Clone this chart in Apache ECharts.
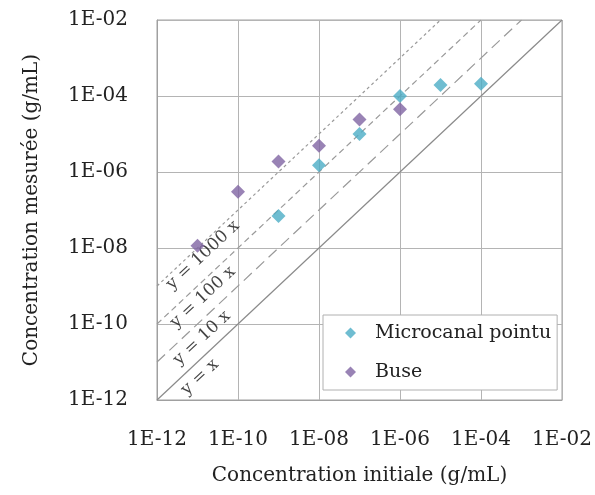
<!DOCTYPE html>
<html><head><meta charset="utf-8">
<script src="https://cdn.jsdelivr.net/npm/echarts@6/dist/echarts.min.js"></script>
<style>html,body{margin:0;padding:0;background:#fff}#c{width:595px;height:495px}</style>
</head><body><div id="c"></div>
<script>
// --- data ---
const microX = [1e-9, 1e-8, 1e-7, 1e-6, 1e-5, 1e-4];
const microY = [7e-8, 1.5e-6, 1e-5, 1e-4, 1.95e-4, 2.1e-4];
const buseX = [1e-11, 1e-10, 1e-9, 1e-8, 1e-7, 1e-6];
const buseY = [1.15e-8, 3e-7, 1.9e-6, 4.9e-6, 2.4e-5, 4.5e-5];
const refNames = ['y = x', 'y = 10 x', 'y = 100 x', 'y = 1000 x'];
const refFactors = [1, 10, 100, 1000];
const refLabelX = [1.15e-11, 1.29e-11, 1.37e-11, 1.37e-11];
const refLabelY = [4.0e-12, 4.3e-11, 5.1e-10, 6.5e-9];
const axisMin = 1e-12, axisMax = 1e-2;

const font = 'DejaVu Serif';
function fmt(v){
  const e = Math.round(Math.log10(v));
  const a = Math.abs(e);
  return '1E' + (e < 0 ? '-' : '+') + (a < 10 ? '0' + a : a);
}
const dashes = [null, [11, 6], [6, 4], [3, 3]];
const refSeries = refFactors.map((k, i) => ({
  type: 'line', name: refNames[i], silent: true, symbol: 'none',
  data: [[axisMin, axisMin * k], [axisMax / k, axisMax]],
  lineStyle: { color: i === 0 ? '#8a8a8a' : '#9a9a9a', width: 1.2, type: dashes[i] || 'solid' },
  z: 1
}));
const labelSeries = {
  type: 'scatter', silent: true, symbolSize: 0, z: 3,
  data: refNames.map((n, i) => ({ value: [refLabelX[i], refLabelY[i]], name: n })),
  label: { show: true, position: 'inside', formatter: p => p.name, rotate: 43,
    fontFamily: font, fontSize: 17, color: '#111', align: 'center', verticalAlign: 'middle' }
};
const chart = echarts.init(document.getElementById('c'), null, { renderer: 'canvas' });
chart.setOption({
  animation: false,
  backgroundColor: '#fff',
  grid: { left: 157, right: 33, top: 20, bottom: 95, show: true, borderColor: '#a0a0a0', borderWidth: 1 },
  legend: {
    data: [{ name: 'Microcanal pointu', icon: 'diamond' }, { name: 'Buse', icon: 'diamond' }],
    orient: 'vertical', left: 323, top: 315,
    itemWidth: 11, itemHeight: 11, itemGap: 19,
    padding: [8, 6, 8, 22], borderColor: '#b0b0b0', borderWidth: 1, backgroundColor: '#fff',
    textStyle: { fontFamily: font, fontSize: 19, color: '#222', lineHeight: 20, padding: [0, 0, 0, 14] }
  },
  xAxis: {
    type: 'log', logBase: 10, min: axisMin, max: axisMax, interval: 2,
    name: 'Concentration initiale (g/mL)', nameLocation: 'middle', nameGap: 66,
    nameTextStyle: { fontFamily: font, fontSize: 20, color: '#222' },
    axisLine: { lineStyle: { color: '#a0a0a0' } }, axisTick: { show: false },
    axisLabel: { formatter: fmt, fontFamily: font, fontSize: 20, color: '#222', margin: 30 },
    splitLine: { show: true, lineStyle: { color: '#b4b4b4', width: 1 } },
    minorTick: { show: false }
  },
  yAxis: {
    type: 'log', logBase: 10, min: axisMin, max: axisMax, interval: 2,
    name: 'Concentration mesurée (g/mL)', nameLocation: 'middle', nameGap: 115,
    nameTextStyle: { fontFamily: font, fontSize: 20, color: '#222' },
    axisLine: { lineStyle: { color: '#a0a0a0' } }, axisTick: { show: false },
    axisLabel: { formatter: fmt, fontFamily: font, fontSize: 20, color: '#222', margin: 29 },
    splitLine: { show: true, lineStyle: { color: '#b4b4b4', width: 1 } }
  },
  series: [
    ...refSeries,
    { type: 'scatter', name: 'Microcanal pointu', symbol: 'diamond', symbolSize: 14,
      itemStyle: { color: '#4bacc6' }, data: microX.map((x, i) => [x, microY[i]]), z: 4 },
    { type: 'scatter', name: 'Buse', symbol: 'diamond', symbolSize: 14,
      itemStyle: { color: '#8064a2' }, data: buseX.map((x, i) => [x, buseY[i]]), z: 4 },
    labelSeries
  ]
});
</script></body></html>
